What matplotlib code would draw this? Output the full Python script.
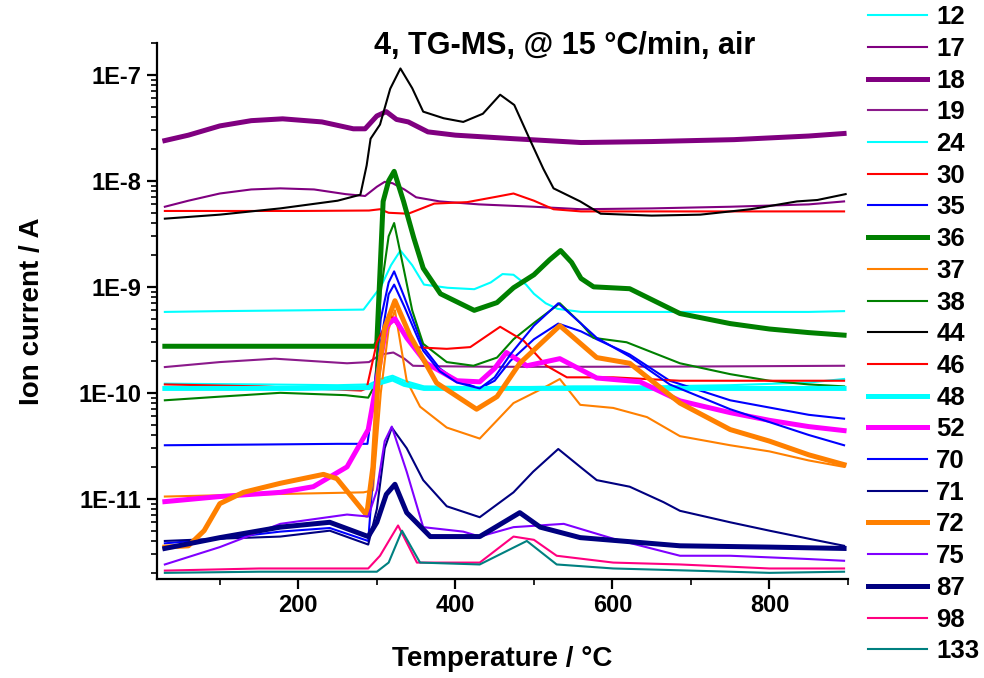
import math
import matplotlib
matplotlib.use("Agg")
import matplotlib.pyplot as plt
from matplotlib.ticker import FixedLocator, FuncFormatter, LogLocator, NullFormatter

plt.rcParams['font.family'] = ['Liberation Sans', 'DejaVu Sans']
plt.rcParams['font.weight'] = 'bold'

# ---------------- data ----------------
t12 = [30, 100, 200, 283, 295, 305, 318, 330, 345, 360, 390, 424, 445, 460, 474, 490, 500, 515, 530, 560, 650, 750, 850, 895]
v12 = [5.8e-10, 5.9e-10, 6.0e-10, 6.1e-10, 8.0e-10, 1.0e-9, 1.6e-9, 2.2e-9, 1.6e-9, 1.05e-9, 9.8e-10, 9.5e-10, 1.1e-9, 1.32e-9, 1.3e-9, 1.05e-9, 8.6e-10, 7.0e-10, 6.2e-10, 5.8e-10, 5.8e-10, 5.8e-10, 5.8e-10, 5.9e-10]

t17 = [30, 60, 100, 140, 177, 220, 260, 285, 300, 310, 320, 335, 350, 380, 430, 500, 560, 650, 750, 850, 895]
v17 = [5.7e-9, 6.5e-9, 7.6e-9, 8.3e-9, 8.5e-9, 8.3e-9, 7.5e-9, 7.2e-9, 8.8e-9, 9.8e-9, 9.5e-9, 8.3e-9, 7.0e-9, 6.4e-9, 6.0e-9, 5.7e-9, 5.4e-9, 5.5e-9, 5.7e-9, 6.0e-9, 6.4e-9]

t18 = [30, 60, 100, 140, 180, 230, 270, 285, 300, 312, 325, 340, 365, 400, 474, 560, 650, 755, 850, 895]
v18 = [2.4e-8, 2.7e-8, 3.3e-8, 3.7e-8, 3.85e-8, 3.6e-8, 3.1e-8, 3.1e-8, 4.1e-8, 4.5e-8, 3.8e-8, 3.6e-8, 2.9e-8, 2.7e-8, 2.5e-8, 2.3e-8, 2.35e-8, 2.45e-8, 2.65e-8, 2.8e-8]

t19 = [30, 100, 170, 262, 290, 305, 321, 335, 346, 380, 450, 550, 700, 895]
v19 = [1.75e-10, 1.95e-10, 2.1e-10, 1.9e-10, 1.95e-10, 2.3e-10, 2.4e-10, 2.1e-10, 1.8e-10, 1.78e-10, 1.76e-10, 1.76e-10, 1.77e-10, 1.8e-10]

t24 = [30, 150, 250, 290, 305, 320, 335, 360, 450, 550, 650, 750, 850, 895]
v24 = [1.22e-10, 1.2e-10, 1.18e-10, 1.2e-10, 1.35e-10, 1.45e-10, 1.3e-10, 1.15e-10, 1.12e-10, 1.15e-10, 1.15e-10, 1.18e-10, 1.25e-10, 1.35e-10]

t30 = [30, 200, 290, 304, 315, 340, 373, 415, 453, 474, 500, 525, 560, 700, 895]
v30 = [5.2e-9, 5.2e-9, 5.25e-9, 5.4e-9, 5.0e-9, 4.9e-9, 6.1e-9, 6.3e-9, 7.1e-9, 7.6e-9, 6.5e-9, 5.4e-9, 5.15e-9, 5.15e-9, 5.15e-9]

t35 = [30, 150, 250, 288, 295, 305, 315, 322, 335, 359, 380, 402, 431, 450, 470, 500, 531, 560, 580, 622, 673, 750, 850, 895]
v35 = [3.2e-11, 3.25e-11, 3.3e-11, 3.3e-11, 8e-11, 5e-10, 1.1e-9, 1.4e-9, 8e-10, 2.7e-10, 1.7e-10, 1.3e-10, 1.1e-10, 1.3e-10, 2.0e-10, 3.2e-10, 4.5e-10, 3.8e-10, 3.2e-10, 2.3e-10, 1.3e-10, 8.5e-11, 6.2e-11, 5.7e-11]

t36 = [30, 200, 298, 300, 308, 315, 322, 334, 347, 359, 381, 424, 453, 474, 500, 520, 534, 548, 560, 576, 622, 686, 750, 800, 850, 895]
v36 = [2.75e-10, 2.75e-10, 2.75e-10, 3e-10, 6.4e-9, 1.0e-8, 1.23e-8, 6.4e-9, 2.9e-9, 1.5e-9, 8.6e-10, 6.0e-10, 7.1e-10, 9.8e-10, 1.3e-9, 1.8e-9, 2.2e-9, 1.7e-9, 1.2e-9, 1.0e-9, 9.6e-10, 5.6e-10, 4.5e-10, 4.0e-10, 3.7e-10, 3.5e-10]

t37 = [30, 150, 283, 295, 305, 315, 323, 338, 355, 389, 431, 474, 508, 533, 559, 601, 644, 686, 750, 800, 850, 895]
v37 = [1.05e-11, 1.1e-11, 1.15e-11, 1.2e-11, 1e-10, 4e-10, 6e-10, 1.3e-10, 7.4e-11, 4.7e-11, 3.7e-11, 8e-11, 1.07e-10, 1.35e-10, 7.7e-11, 7.2e-11, 5.9e-11, 3.9e-11, 3.2e-11, 2.8e-11, 2.3e-11, 2.0e-11]

t38 = [30, 100, 177, 260, 289, 298, 305, 315, 322, 334, 345, 359, 389, 423, 453, 474, 499, 533, 560, 576, 618, 686, 750, 800, 850, 895]
v38 = [8.5e-11, 9.2e-11, 1.0e-10, 9.5e-11, 9e-11, 1.2e-10, 9e-10, 3e-9, 4.0e-9, 1.5e-9, 6e-10, 2.9e-10, 1.95e-10, 1.8e-10, 2.15e-10, 3.2e-10, 4.5e-10, 7.0e-10, 4.5e-10, 3.3e-10, 3.0e-10, 1.9e-10, 1.5e-10, 1.3e-10, 1.2e-10, 1.15e-10]

t44 = [30, 100, 177, 250, 279, 287, 292, 304, 317, 330, 345, 359, 385, 410, 435, 457, 475, 496, 512, 525, 559, 585, 650, 712, 776, 835, 861, 897]
v44 = [4.4e-9, 4.8e-9, 5.5e-9, 6.5e-9, 7.4e-9, 1.4e-8, 2.5e-8, 3.4e-8, 7.4e-8, 1.15e-7, 7.5e-8, 4.5e-8, 3.9e-8, 3.6e-8, 4.3e-8, 6.5e-8, 5.2e-8, 2.35e-8, 1.3e-8, 8.5e-9, 6.4e-9, 4.9e-9, 4.7e-9, 4.8e-9, 5.4e-9, 6.4e-9, 6.6e-9, 7.5e-9]

t46 = [30, 150, 280, 287, 300, 317, 346, 389, 419, 457, 487, 516, 542, 601, 686, 800, 895]
v46 = [1.2e-10, 1.15e-10, 1.05e-10, 1.1e-10, 3e-10, 5.4e-10, 2.7e-10, 2.6e-10, 2.7e-10, 4.2e-10, 3.1e-10, 1.8e-10, 1.4e-10, 1.4e-10, 1.3e-10, 1.3e-10, 1.3e-10]

t48 = [30, 200, 290, 305, 320, 335, 360, 450, 550, 650, 750, 895]
v48 = [1.1e-10, 1.1e-10, 1.12e-10, 1.25e-10, 1.35e-10, 1.2e-10, 1.1e-10, 1.1e-10, 1.1e-10, 1.1e-10, 1.1e-10, 1.1e-10]

t52 = [30, 100, 177, 219, 262, 289, 300, 312, 323, 338, 363, 402, 431, 450, 465, 491, 533, 580, 635, 686, 750, 800, 850, 895]
v52 = [9.4e-12, 1.05e-11, 1.15e-11, 1.3e-11, 2.0e-11, 4.5e-11, 1.3e-10, 4.3e-10, 5.0e-10, 3.3e-10, 1.9e-10, 1.3e-10, 1.27e-10, 1.7e-10, 2.4e-10, 1.8e-10, 2.1e-10, 1.38e-10, 1.27e-10, 8.4e-11, 6.5e-11, 5.5e-11, 4.8e-11, 4.4e-11]

t70 = [30, 100, 177, 240, 289, 296, 305, 315, 322, 335, 359, 380, 402, 431, 450, 470, 500, 531, 560, 580, 622, 673, 750, 850, 895]
v70 = [3.8e-12, 4.2e-12, 4.9e-12, 5.3e-12, 4e-12, 2e-11, 3e-10, 8.5e-10, 1.05e-9, 6.5e-10, 2.5e-10, 1.6e-10, 1.25e-10, 1.1e-10, 1.4e-10, 2.3e-10, 4.3e-10, 7e-10, 4.5e-10, 3.3e-10, 2.2e-10, 1.2e-10, 7e-11, 4e-11, 3.2e-11]

t71 = [30, 100, 177, 240, 289, 300, 310, 319, 338, 359, 389, 431, 474, 499, 531, 559, 580, 622, 665, 686, 750, 800, 850, 895]
v71 = [4.0e-12, 4.2e-12, 4.4e-12, 5.0e-12, 3.7e-12, 8e-12, 3e-11, 4.7e-11, 3.0e-11, 1.5e-11, 8.5e-12, 6.7e-12, 1.15e-11, 1.8e-11, 2.95e-11, 2.0e-11, 1.5e-11, 1.3e-11, 9.3e-12, 7.7e-12, 6e-12, 5e-12, 4.2e-12, 3.6e-12]

t72 = [30, 60, 80, 100, 130, 177, 232, 249, 287, 295, 302, 310, 323, 342, 376, 427, 453, 482, 533, 580, 622, 686, 750, 800, 850, 895]
v72 = [3.5e-12, 3.6e-12, 5e-12, 9e-12, 1.15e-11, 1.4e-11, 1.7e-11, 1.55e-11, 7e-12, 2e-11, 1.5e-10, 4.1e-10, 7.4e-10, 3.5e-10, 1.24e-10, 7e-11, 9.2e-11, 1.9e-10, 4.3e-10, 2.15e-10, 1.9e-10, 8e-11, 4.5e-11, 3.5e-11, 2.6e-11, 2.1e-11]

t75 = [30, 100, 177, 262, 289, 300, 310, 319, 338, 359, 410, 431, 474, 538, 601, 686, 750, 800, 850, 895]
v75 = [2.4e-12, 3.5e-12, 5.8e-12, 7.1e-12, 6.8e-12, 1.2e-11, 3.5e-11, 4.8e-11, 1.8e-11, 5.4e-12, 4.9e-12, 4.4e-12, 5.4e-12, 5.8e-12, 4.2e-12, 2.9e-12, 2.9e-12, 2.8e-12, 2.7e-12, 2.6e-12]

t87 = [30, 100, 177, 240, 289, 300, 312, 323, 338, 368, 431, 482, 508, 559, 686, 800, 895]
v87 = [3.4e-12, 4.3e-12, 5.4e-12, 6.0e-12, 4.4e-12, 6e-12, 1.1e-11, 1.37e-11, 7.4e-12, 4.4e-12, 4.4e-12, 7.4e-12, 5.4e-12, 4.3e-12, 3.6e-12, 3.5e-12, 3.4e-12]

t98 = [30, 150, 289, 304, 327, 351, 431, 474, 500, 529, 601, 686, 800, 895]
v98 = [2.1e-12, 2.2e-12, 2.2e-12, 2.9e-12, 5.6e-12, 2.5e-12, 2.5e-12, 4.4e-12, 4.1e-12, 2.9e-12, 2.5e-12, 2.4e-12, 2.2e-12, 2.2e-12]

t133 = [30, 150, 300, 315, 332, 355, 431, 491, 529, 601, 700, 800, 895]
v133 = [2.0e-12, 2.05e-12, 2.05e-12, 2.5e-12, 5e-12, 2.5e-12, 2.4e-12, 4e-12, 2.4e-12, 2.2e-12, 2.1e-12, 2.0e-12, 2.05e-12]

ticks_x_major = [200, 400, 600, 800]
ticks_x_minor = [100, 300, 500, 700, 900]
ticks_y = [1e-11, 1e-10, 1e-9, 1e-8, 1e-7]

# ---------------- style ----------------
THICK, THIN = 3.6, 1.5
series = [
    ('12', t12, v12, '#00FFFF', THIN),
    ('17', t17, v17, '#800080', THIN),
    ('18', t18, v18, '#800080', THICK),
    ('19', t19, v19, '#8B1A8B', THIN),
    ('24', t24, v24, '#00FFFF', THIN),
    ('30', t30, v30, '#FF0000', THIN),
    ('35', t35, v35, '#0000FF', THIN),
    ('36', t36, v36, '#008000', THICK),
    ('37', t37, v37, '#FF8000', THIN),
    ('38', t38, v38, '#008000', THIN),
    ('44', t44, v44, '#000000', THIN),
    ('46', t46, v46, '#FF0000', THIN),
    ('48', t48, v48, '#00FFFF', THICK),
    ('52', t52, v52, '#FF00FF', THICK),
    ('70', t70, v70, '#0000FF', THIN),
    ('71', t71, v71, '#000080', THIN),
    ('72', t72, v72, '#FF8000', THICK),
    ('75', t75, v75, '#8000FF', THIN),
    ('87', t87, v87, '#000080', THICK),
    ('98', t98, v98, '#FF0080', THIN),
    ('133', t133, v133, '#008080', THIN),
]

fig = plt.figure(figsize=(9.84, 6.78), dpi=100)
ax = fig.add_axes([157/984, 1-579/678, (848-157)/984, (579-43)/678])

for lab, t, v, c, lw in series:
    ax.plot(t, v, color=c, lw=lw, label=lab, solid_joinstyle='round')

ax.set_yscale('log')
ax.set_xlim(20, 900)
ax.set_ylim(1.75e-12, 2e-7)

ax.xaxis.set_major_locator(FixedLocator(ticks_x_major))
ax.xaxis.set_minor_locator(FixedLocator(ticks_x_minor))
ax.yaxis.set_major_locator(FixedLocator(ticks_y))
ax.yaxis.set_minor_locator(LogLocator(base=10, subs=range(2, 10), numticks=50))
ax.yaxis.set_minor_formatter(NullFormatter())
ax.yaxis.set_major_formatter(FuncFormatter(lambda v, p: '1E%d' % round(math.log10(v))))

for s in ['top', 'right']:
    ax.spines[s].set_visible(False)
for s in ['left', 'bottom']:
    ax.spines[s].set_linewidth(1.6)

ax.tick_params(which='major', direction='out', length=7, width=1.6, labelsize=17, pad=4)
ax.tick_params(which='minor', direction='out', length=4, width=1.2)
for lab in ax.get_xticklabels() + ax.get_yticklabels():
    lab.set_fontweight('bold')

ax.set_xlabel('Temperature / °C', fontsize=20, fontweight='bold', labelpad=21)
ax.set_ylabel('Ion current / A', fontsize=20, fontweight='bold', labelpad=24)

fig.text(565/984, 1-46/678, '4, TG-MS, @ 15 °C/min, air', ha='center', va='center',
         fontsize=22, fontweight='bold')

fig.legend(loc='upper left', bbox_to_anchor=(863/984, 1.0), frameon=False,
           handlelength=2.3, handletextpad=0.35, labelspacing=0.3,
           borderaxespad=0.0, borderpad=0.2, prop={'weight': 'bold', 'size': 18.5})

fig.savefig('out.png', dpi=100)
